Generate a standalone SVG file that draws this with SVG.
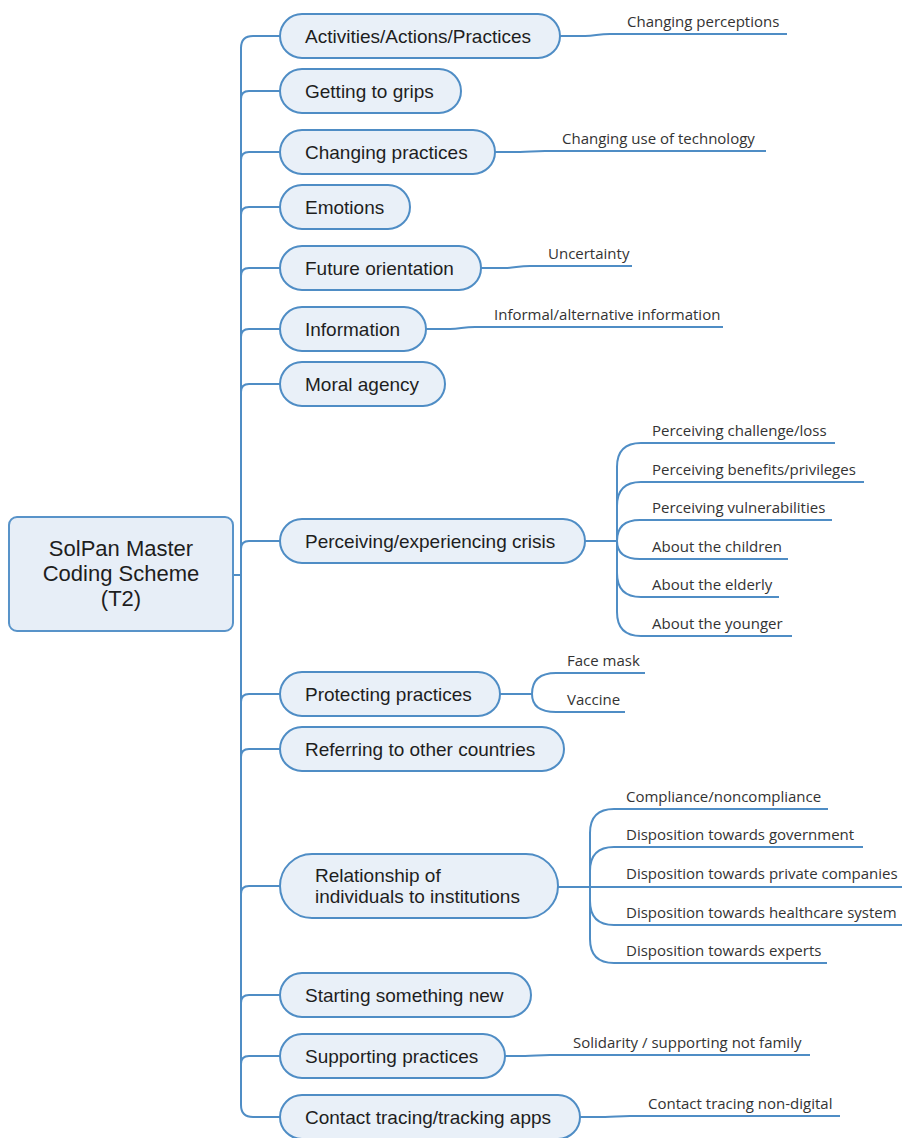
<svg xmlns="http://www.w3.org/2000/svg" width="902" height="1138" viewBox="0 0 902 1138">
<style>
.bg{fill:#ffffff}
.root{fill:#e7eef7;stroke:#5893c9;stroke-width:2}
.node{fill:#e9f0f8;stroke:#4f8dc5;stroke-width:2}
.rt{font-family:"Liberation Sans",Arial,sans-serif;font-size:22px;fill:#1e1e1e;text-anchor:middle}
.nt{font-family:"Liberation Sans",Arial,sans-serif;font-size:19px;fill:#1e1e1e}
.lt{font-family:"Open Sans","Noto Sans",sans-serif;font-size:15px;fill:#333333}
.c{fill:none;stroke:#4f8dc5;stroke-width:2}
</style>
<rect class="bg" x="0" y="0" width="902" height="1138"/>
<g id="connectors">
<path class="c" d="M233,575 H241"/>
<path class="c" d="M280,36 H253 Q241,36 241,48 V1105 Q241,1117 253,1117 H280"/>
<path class="c" d="M241,99 Q241,91 249,91 H280"/>
<path class="c" d="M241,160 Q241,152 249,152 H280"/>
<path class="c" d="M241,215 Q241,207 249,207 H280"/>
<path class="c" d="M241,276 Q241,268 249,268 H280"/>
<path class="c" d="M241,337 Q241,329 249,329 H280"/>
<path class="c" d="M241,392 Q241,384 249,384 H280"/>
<path class="c" d="M241,549 Q241,541 249,541 H280"/>
<path class="c" d="M241,702 Q241,694 249,694 H280"/>
<path class="c" d="M241,757 Q241,749 249,749 H280"/>
<path class="c" d="M241,894 Q241,886 249,886 H280"/>
<path class="c" d="M241,1003 Q241,995 249,995 H280"/>
<path class="c" d="M241,1064 Q241,1056 249,1056 H280"/>
<!-- single leaves -->
<path class="c" d="M560,36 H585 C595,36 598,34 610,34 H787"/>
<path class="c" d="M495,152 H520 C530,152 533,151 545,151 H766"/>
<path class="c" d="M481,268 H505 C515,268 518,266 530,266 H632"/>
<path class="c" d="M426,329 H450 C460,329 463,327 475,327 H723"/>
<path class="c" d="M505,1056 H525 C535,1056 538,1055 550,1055 H810"/>
<path class="c" d="M580,1117 H605 C615,1117 618,1116 630,1116 H840"/>
<!-- perceiving fork -->
<path class="c" d="M585,541 H617"/>
<path class="c" d="M617,541 V467 Q617,443 641,443 H835"/>
<path class="c" d="M617,541 V506 Q617,482 641,482 H864"/>
<path class="c" d="M617,541 Q617,520 640,520 H832"/>
<path class="c" d="M617,541 Q617,559 640,559 H788"/>
<path class="c" d="M617,541 V573 Q617,597 641,597 H779"/>
<path class="c" d="M617,541 V612 Q617,636 641,636 H792"/>
<!-- protecting fork -->
<path class="c" d="M500,694 H532"/>
<path class="c" d="M532,694 Q532,673 556,673 H645"/>
<path class="c" d="M532,694 Q532,712 556,712 H625"/>
<!-- relationship fork -->
<path class="c" d="M558,887 H902"/>
<path class="c" d="M590,887 V833 Q590,809 614,809 H828"/>
<path class="c" d="M590,887 V871 Q590,847 614,847 H863"/>
<path class="c" d="M590,887 V901 Q590,925 614,925 H902"/>
<path class="c" d="M590,887 V939 Q590,963 614,963 H827"/>
</g>
<g id="root">
<rect class="root" x="9" y="517" width="224" height="114" rx="8"/>
<text class="rt" x="121" y="556">SolPan Master</text>
<text class="rt" x="121" y="581">Coding Scheme</text>
<text class="rt" x="121" y="606">(T2)</text>
</g>
<g id="n1"><rect class="node" x="280" y="14" width="280" height="44" rx="22"/><text class="nt" x="305" y="43">Activities/Actions/Practices</text></g>
<g id="n2"><rect class="node" x="280" y="69" width="181" height="44" rx="22"/><text class="nt" x="305" y="98">Getting to grips</text></g>
<g id="n3"><rect class="node" x="280" y="130" width="215" height="44" rx="22"/><text class="nt" x="305" y="159">Changing practices</text></g>
<g id="n4"><rect class="node" x="280" y="185" width="130" height="44" rx="22"/><text class="nt" x="305" y="214">Emotions</text></g>
<g id="n5"><rect class="node" x="280" y="246" width="201" height="44" rx="22"/><text class="nt" x="305" y="275">Future orientation</text></g>
<g id="n6"><rect class="node" x="280" y="307" width="146" height="44" rx="22"/><text class="nt" x="305" y="336">Information</text></g>
<g id="n7"><rect class="node" x="280" y="362" width="165" height="44" rx="22"/><text class="nt" x="305" y="391">Moral agency</text></g>
<g id="n8"><rect class="node" x="280" y="519" width="305" height="44" rx="22"/><text class="nt" x="305" y="548">Perceiving/experiencing crisis</text></g>
<g id="n9"><rect class="node" x="280" y="672" width="220" height="44" rx="22"/><text class="nt" x="305" y="701">Protecting practices</text></g>
<g id="n10"><rect class="node" x="280" y="727" width="284" height="44" rx="22"/><text class="nt" x="305" y="756">Referring to other countries</text></g>
<g id="n11"><rect class="node" x="280" y="854" width="278" height="64" rx="32"/><text class="nt" x="315" y="882">Relationship of</text><text class="nt" x="315" y="903">individuals to institutions</text></g>
<g id="n12"><rect class="node" x="280" y="973" width="251" height="44" rx="22"/><text class="nt" x="305" y="1002">Starting something new</text></g>
<g id="n13"><rect class="node" x="280" y="1034" width="225" height="44" rx="22"/><text class="nt" x="305" y="1063">Supporting practices</text></g>
<g id="n14"><rect class="node" x="280" y="1095" width="300" height="44" rx="22"/><text class="nt" x="305" y="1124">Contact tracing/tracking apps</text></g>
<g id="leaves">
<text class="lt" x="627" y="27">Changing perceptions</text>
<text class="lt" x="562" y="144">Changing use of technology</text>
<text class="lt" x="548" y="259">Uncertainty</text>
<text class="lt" x="494" y="320">Informal/alternative information</text>
<text class="lt" x="652" y="436">Perceiving challenge/loss</text>
<text class="lt" x="652" y="475">Perceiving benefits/privileges</text>
<text class="lt" x="652" y="513">Perceiving vulnerabilities</text>
<text class="lt" x="652" y="552">About the children</text>
<text class="lt" x="652" y="590">About the elderly</text>
<text class="lt" x="652" y="629">About the younger</text>
<text class="lt" x="567" y="666">Face mask</text>
<text class="lt" x="567" y="705">Vaccine</text>
<text class="lt" x="626" y="802">Compliance/noncompliance</text>
<text class="lt" x="626" y="840">Disposition towards government</text>
<text class="lt" x="626" y="879">Disposition towards private companies</text>
<text class="lt" x="626" y="918">Disposition towards healthcare system</text>
<text class="lt" x="626" y="956">Disposition towards experts</text>
<text class="lt" x="573" y="1048">Solidarity / supporting not family</text>
<text class="lt" x="648" y="1109">Contact tracing non-digital</text>
</g>
</svg>
